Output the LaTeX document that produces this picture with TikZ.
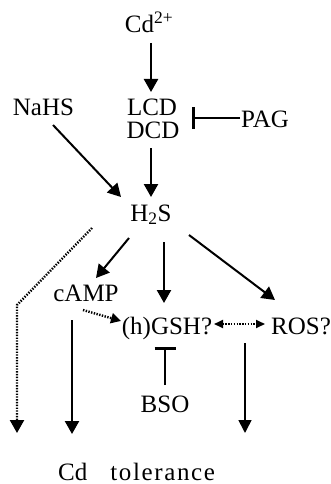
\documentclass[tikz,border=0pt]{standalone}
\usepackage{fontspec}
\setmainfont{Liberation Serif}
\usetikzlibrary{arrows.meta,calc}
\begin{document}
\begin{tikzpicture}[x=1pt,y=-1pt,
  every node/.style={font=\fontsize{25}{30}\selectfont, inner sep=0pt, anchor=base},
  arr/.style={line width=2.4pt, -{Triangle[length=13pt,width=14pt]}},
  thinarr/.style={line width=1.6pt, -{Triangle[length=13pt,width=13pt]}},
  dots/.style={line width=2.4pt, dash pattern=on 1.4pt off 1.4pt},
  inh/.style={line width=2.4pt, -{Bar[width=21pt,line width=2.6pt]}}
]
\useasboundingbox (0,0) rectangle (331,484);
\node (cd)   at (149,33)  {Cd\textsuperscript{2+}};
\node (lcd)  at (152,115) {LCD};
\node (dcd)  at (153,139) {DCD};
\node (pag)  at (265,128) {PAG};
\node (nahs) at (43.5,116) {NaHS};
\node (h2s)  at (151,221) {H\textsubscript{2}S};
\node (camp) at (86,301)  {cAMP};
\node (gsh)  at (167,334) {(h)GSH?};
\node (ros)  at (301,334) {ROS?};
\node (bso)  at (165,412) {BSO};
\node[anchor=base west] (tol) at (58,480) {Cd\hspace{23pt}{\addfontfeature{LetterSpace=6.5}tolerance}};

\draw[arr] ($(cd.base)+(2,10)$) -- ($(lcd.base)+(-1,-23)$);
\draw[inh] ($(pag.base)+(-25,-10)$) -- ($(dcd.base)+(39,-21)$);
\draw[arr, line width=2pt] ($(nahs.base)+(9.5,9)$) -- ($(h2s.base)+(-30,-24)$);
\draw[arr] ($(dcd.base)+(-2,9)$) -- ($(h2s.base)+(0,-24)$);
\draw[dots] ($(h2s.base)+(-59,7)$) -- ($(h2s.base)+(-134,84)$) -- ($(tol.base west)+(-41,-55)$);
\draw[line width=2.4pt, -{Triangle[length=13pt,width=14pt]}] ($(tol.base west)+(-41,-56)$) -- ($(tol.base west)+(-41,-47)$);
\draw[arr, line width=2pt] ($(h2s.base)+(-22,17)$) -- ($(camp.base)+(10,-23)$);
\draw[arr] ($(h2s.base)+(13,21)$) -- ($(gsh.base)+(-3,-31)$);
\draw[arr, line width=2pt] ($(h2s.base)+(38,14)$) -- ($(ros.base)+(-26,-34)$);
\draw[dots, -{Triangle[length=10pt,width=10pt]}] ($(camp.base)+(-3,9)$) -- ($(gsh.base)+(-46,-13)$);
\draw[dots, line width=2pt, {Triangle[length=9pt,width=8pt]}-{Triangle[length=9pt,width=8pt]}] ($(gsh.base)+(47,-10)$) -- ($(ros.base)+(-36,-10)$);
\draw[arr] ($(camp.base)+(-14,19)$) -- ($(tol.base west)+(14,-46)$);
\draw[inh] ($(bso.base)+(0,-27)$) -- ($(gsh.base)+(-2,13)$);
\draw[thinarr] ($(ros.base)+(-56,9)$) -- ($(tol.base west)+(187,-47)$);
\end{tikzpicture}
\end{document}
